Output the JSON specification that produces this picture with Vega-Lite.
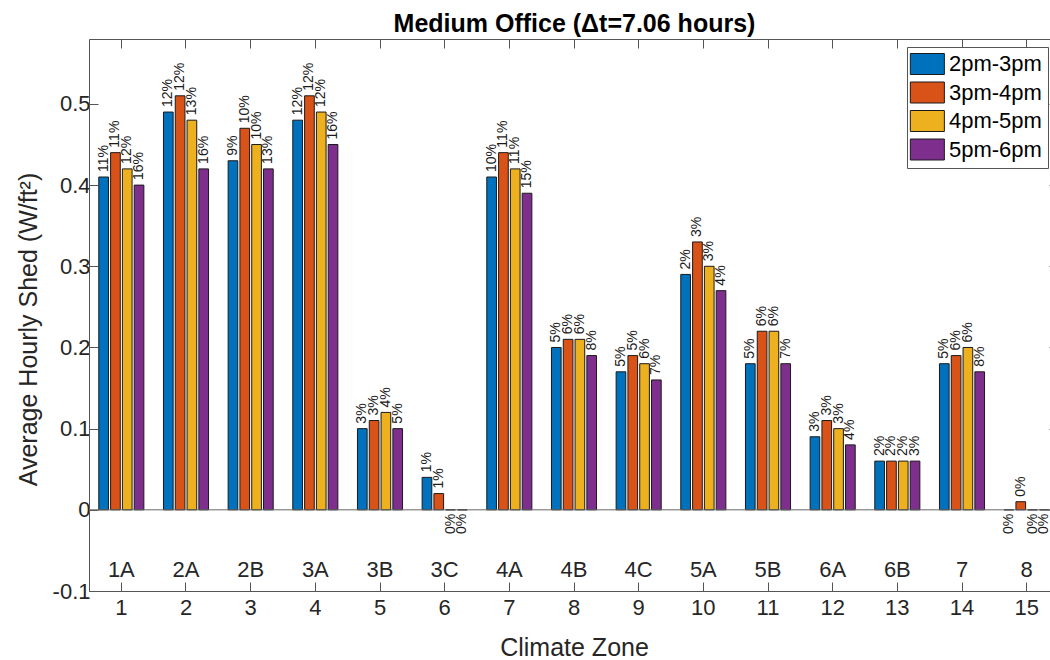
{
  "$schema": "https://vega.github.io/schema/vega-lite/v6.json",
  "autosize": {"type": "none"},
  "width": 961,
  "height": 552,
  "padding": {"left": 89, "top": 39, "right": 0, "bottom": 69},
  "background": "white",
  "title": {"text": "Medium Office (Δt=7.06 hours)", "font": "Liberation Sans", "fontSize": 25, "fontWeight": "bold", "color": "#000000", "anchor": "middle", "dx": 5, "offset": -18, "baseline": "alphabetic"},
  "config": {
    "view": {"stroke": null},
    "font": "Liberation Sans",
    "axis": {"labelFont": "Liberation Sans", "titleFont": "Liberation Sans", "labelFontSize": 22, "titleFontSize": 25, "titleFontWeight": "normal", "labelColor": "#262626", "titleColor": "#262626", "domainColor": "#555555", "tickColor": "#555555", "grid": false}
  },
  "datasets": {
    "shed": [
      {"zone": 1, "period": "2pm-3pm", "value": 0.41, "pct": "11%"},
      {"zone": 1, "period": "3pm-4pm", "value": 0.44, "pct": "11%"},
      {"zone": 1, "period": "4pm-5pm", "value": 0.42, "pct": "12%"},
      {"zone": 1, "period": "5pm-6pm", "value": 0.40, "pct": "16%"},
      {"zone": 2, "period": "2pm-3pm", "value": 0.49, "pct": "12%"},
      {"zone": 2, "period": "3pm-4pm", "value": 0.51, "pct": "12%"},
      {"zone": 2, "period": "4pm-5pm", "value": 0.48, "pct": "13%"},
      {"zone": 2, "period": "5pm-6pm", "value": 0.42, "pct": "16%"},
      {"zone": 3, "period": "2pm-3pm", "value": 0.43, "pct": "9%"},
      {"zone": 3, "period": "3pm-4pm", "value": 0.47, "pct": "10%"},
      {"zone": 3, "period": "4pm-5pm", "value": 0.45, "pct": "10%"},
      {"zone": 3, "period": "5pm-6pm", "value": 0.42, "pct": "13%"},
      {"zone": 4, "period": "2pm-3pm", "value": 0.48, "pct": "12%"},
      {"zone": 4, "period": "3pm-4pm", "value": 0.51, "pct": "12%"},
      {"zone": 4, "period": "4pm-5pm", "value": 0.49, "pct": "12%"},
      {"zone": 4, "period": "5pm-6pm", "value": 0.45, "pct": "16%"},
      {"zone": 5, "period": "2pm-3pm", "value": 0.10, "pct": "3%"},
      {"zone": 5, "period": "3pm-4pm", "value": 0.11, "pct": "3%"},
      {"zone": 5, "period": "4pm-5pm", "value": 0.12, "pct": "4%"},
      {"zone": 5, "period": "5pm-6pm", "value": 0.10, "pct": "5%"},
      {"zone": 6, "period": "2pm-3pm", "value": 0.04, "pct": "1%"},
      {"zone": 6, "period": "3pm-4pm", "value": 0.02, "pct": "1%"},
      {"zone": 6, "period": "4pm-5pm", "value": 0, "pct": "0%"},
      {"zone": 6, "period": "5pm-6pm", "value": 0, "pct": "0%"},
      {"zone": 7, "period": "2pm-3pm", "value": 0.41, "pct": "10%"},
      {"zone": 7, "period": "3pm-4pm", "value": 0.44, "pct": "11%"},
      {"zone": 7, "period": "4pm-5pm", "value": 0.42, "pct": "11%"},
      {"zone": 7, "period": "5pm-6pm", "value": 0.39, "pct": "15%"},
      {"zone": 8, "period": "2pm-3pm", "value": 0.20, "pct": "5%"},
      {"zone": 8, "period": "3pm-4pm", "value": 0.21, "pct": "6%"},
      {"zone": 8, "period": "4pm-5pm", "value": 0.21, "pct": "6%"},
      {"zone": 8, "period": "5pm-6pm", "value": 0.19, "pct": "8%"},
      {"zone": 9, "period": "2pm-3pm", "value": 0.17, "pct": "5%"},
      {"zone": 9, "period": "3pm-4pm", "value": 0.19, "pct": "5%"},
      {"zone": 9, "period": "4pm-5pm", "value": 0.18, "pct": "6%"},
      {"zone": 9, "period": "5pm-6pm", "value": 0.16, "pct": "7%"},
      {"zone": 10, "period": "2pm-3pm", "value": 0.29, "pct": "2%"},
      {"zone": 10, "period": "3pm-4pm", "value": 0.33, "pct": "3%"},
      {"zone": 10, "period": "4pm-5pm", "value": 0.30, "pct": "3%"},
      {"zone": 10, "period": "5pm-6pm", "value": 0.27, "pct": "4%"},
      {"zone": 11, "period": "2pm-3pm", "value": 0.18, "pct": "5%"},
      {"zone": 11, "period": "3pm-4pm", "value": 0.22, "pct": "6%"},
      {"zone": 11, "period": "4pm-5pm", "value": 0.22, "pct": "6%"},
      {"zone": 11, "period": "5pm-6pm", "value": 0.18, "pct": "7%"},
      {"zone": 12, "period": "2pm-3pm", "value": 0.09, "pct": "3%"},
      {"zone": 12, "period": "3pm-4pm", "value": 0.11, "pct": "3%"},
      {"zone": 12, "period": "4pm-5pm", "value": 0.10, "pct": "3%"},
      {"zone": 12, "period": "5pm-6pm", "value": 0.08, "pct": "4%"},
      {"zone": 13, "period": "2pm-3pm", "value": 0.06, "pct": "2%"},
      {"zone": 13, "period": "3pm-4pm", "value": 0.06, "pct": "2%"},
      {"zone": 13, "period": "4pm-5pm", "value": 0.06, "pct": "2%"},
      {"zone": 13, "period": "5pm-6pm", "value": 0.06, "pct": "3%"},
      {"zone": 14, "period": "2pm-3pm", "value": 0.18, "pct": "5%"},
      {"zone": 14, "period": "3pm-4pm", "value": 0.19, "pct": "6%"},
      {"zone": 14, "period": "4pm-5pm", "value": 0.20, "pct": "6%"},
      {"zone": 14, "period": "5pm-6pm", "value": 0.17, "pct": "8%"},
      {"zone": 15, "period": "2pm-3pm", "value": 0, "pct": "0%"},
      {"zone": 15, "period": "3pm-4pm", "value": 0.01, "pct": "0%"},
      {"zone": 15, "period": "4pm-5pm", "value": 0, "pct": "0%"},
      {"zone": 15, "period": "5pm-6pm", "value": 0, "pct": "0%"}
    ],
    "zones": [
      {"zone": 1, "name": "1A"}, {"zone": 2, "name": "2A"}, {"zone": 3, "name": "2B"},
      {"zone": 4, "name": "3A"}, {"zone": 5, "name": "3B"}, {"zone": 6, "name": "3C"},
      {"zone": 7, "name": "4A"}, {"zone": 8, "name": "4B"}, {"zone": 9, "name": "4C"},
      {"zone": 10, "name": "5A"}, {"zone": 11, "name": "5B"}, {"zone": 12, "name": "6A"},
      {"zone": 13, "name": "6B"}, {"zone": 14, "name": "7"}, {"zone": 15, "name": "8"}
    ]
  },
  "resolve": {"axis": {"x": "independent", "y": "independent"}},
  "layer": [
    {
      "data": {"name": "shed"},
      "mark": {"type": "bar", "stroke": "#1a1a1a", "strokeWidth": 1},
      "encoding": {
        "x": {"field": "zone", "type": "ordinal",
          "scale": {"domain": [1,2,3,4,5,6,7,8,9,10,11,12,13,14,15], "range": [0, 970], "paddingInner": 0.27, "paddingOuter": 0.135},
          "axis": {"orient": "bottom", "title": "Climate Zone", "labelAngle": 0, "tickSize": -9, "labelPadding": 15, "labelBaseline": "top", "titleX": 485, "titleY": 64, "titleBaseline": "alphabetic", "titleAlign": "center"}},
        "xOffset": {"field": "period", "type": "nominal",
          "scale": {"domain": ["2pm-3pm", "3pm-4pm", "4pm-5pm", "5pm-6pm"], "paddingInner": 0.18, "paddingOuter": 0.09}},
        "y": {"field": "value", "type": "quantitative",
          "scale": {"domain": [-0.1, 0.58], "nice": false, "zero": false},
          "axis": {"orient": "left", "title": "Average Hourly Shed (W/ft²)", "values": [-0.1, 0, 0.1, 0.2, 0.3, 0.4, 0.5],
            "labelExpr": "datum.value < 0 ? '-' + format(-datum.value, '.1~f') : format(datum.value, '.1~f')",
            "tickSize": -9, "labelPadding": 8, "titleX": -53, "titleY": 290, "titleAngle": 270, "titleAlign": "center", "titleBaseline": "alphabetic"}},
        "color": {"field": "period", "type": "nominal",
          "scale": {"domain": ["2pm-3pm", "3pm-4pm", "4pm-5pm", "5pm-6pm"], "range": ["#0072BD", "#D95319", "#EDB120", "#7E2F8E"]},
          "legend": {"title": null, "orient": "none", "legendX": 818, "legendY": 8, "padding": 6, "strokeColor": "#555555", "fillColor": "#ffffff",
            "symbolType": "M-1.3,-1H1.94V1H-1.3Z", "symbolSize": 441, "symbolStrokeColor": "#1a1a1a", "symbolStrokeWidth": 1, "symbolOpacity": 1,
            "labelFont": "Liberation Sans", "labelFontSize": 22, "labelColor": "#000000", "labelOffset": 14, "rowPadding": 2.5}}
      }
    },
    {
      "data": {"name": "shed"},
      "transform": [{"filter": "datum.value > 0"}],
      "mark": {"type": "text", "angle": 270, "align": "left", "baseline": "middle", "dx": 5, "fontSize": 14, "color": "#1a1a1a"},
      "encoding": {
        "x": {"field": "zone", "type": "ordinal", "axis": {"orient": "top", "labels": false, "title": null, "tickSize": -9}},
        "xOffset": {"field": "period", "type": "nominal"},
        "y": {"field": "value", "type": "quantitative", "axis": {"orient": "right", "labels": false, "title": null, "tickSize": -10, "offset": 9, "values": [-0.1, 0, 0.1, 0.2, 0.3, 0.4, 0.5]}},
        "text": {"field": "pct"}
      }
    },
    {
      "data": {"name": "shed"},
      "transform": [{"filter": "datum.value <= 0"}],
      "mark": {"type": "text", "angle": 270, "align": "right", "baseline": "middle", "dx": -4, "fontSize": 14, "color": "#1a1a1a"},
      "encoding": {
        "x": {"field": "zone", "type": "ordinal", "axis": null},
        "xOffset": {"field": "period", "type": "nominal"},
        "y": {"field": "value", "type": "quantitative", "axis": null},
        "text": {"field": "pct"}
      }
    },
    {
      "data": {"name": "zones"},
      "mark": {"type": "text", "baseline": "middle", "fontSize": 22, "color": "#262626"},
      "encoding": {
        "x": {"field": "zone", "type": "ordinal", "axis": null},
        "y": {"datum": -0.074, "type": "quantitative", "axis": null},
        "text": {"field": "name"}
      }
    },
    {
      "data": {"values": [{"base": 0}]},
      "mark": {"type": "rule", "color": "#666666", "strokeWidth": 1},
      "encoding": {
        "y": {"field": "base", "type": "quantitative", "axis": null}
      }
    }
  ]
}
